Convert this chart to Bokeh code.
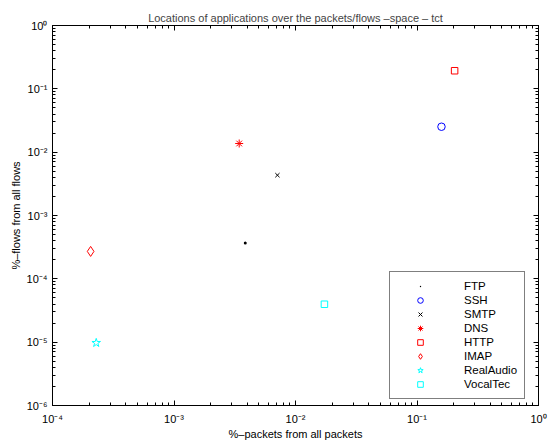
from bokeh.plotting import figure
from bokeh.models import FixedTicker, CustomJSTickFormatter, LogAxis, Legend, LegendItem
from bokeh.embed import file_html
from bokeh.resources import INLINE

# ---- data ----
apps = ["FTP", "SSH", "SMTP", "DNS", "HTTP", "IMAP", "RealAudio", "VocalTec"]
packets_frac = [3.86e-3, 0.159, 7.1e-3, 3.44e-3, 0.204, 2.06e-4, 2.29e-4, 1.73e-2]
flows_frac = [3.69e-4, 2.52e-2, 4.33e-3, 1.37e-2, 0.193, 2.71e-4, 9.75e-6, 3.97e-5]
x_exponents = [-4, -3, -2, -1, 0]
y_exponents = [-6, -5, -4, -3, -2, -1, 0]

# ---- styles ----
styles = {
    "FTP": dict(marker="dot", size=12, line_color="black", fill_color="black"),
    "SSH": dict(marker="circle", size=7.5, line_color="#0000ff", fill_color=None),
    "SMTP": dict(marker="x", size=6, line_color="black", fill_color=None),
    "DNS": dict(marker="asterisk", size=8, line_color="#ff0000", fill_color=None),
    "HTTP": dict(marker="square", size=6.5, line_color="#ff0000", fill_color=None),
    "IMAP": dict(marker="diamond", size=10, line_color="#ff0000", fill_color=None),
    "RealAudio": dict(marker="star", size=9, line_color="#00ffff", fill_color=None),
    "VocalTec": dict(marker="square", size=6.5, line_color="#00ffff", fill_color=None),
}

FONT = "Liberation Sans"

p = figure(width=548, height=442, x_axis_type="log", y_axis_type="log",
           x_range=(10.0 ** x_exponents[0], 10.0 ** x_exponents[-1]),
           y_range=(10.0 ** y_exponents[0], 10.0 ** y_exponents[-1]),
           output_backend="svg", toolbar_location=None,
           title="Locations of applications over the packets/flows \u2013space \u2013 tct",
           min_border_left=52, min_border_right=10, min_border_top=25, min_border_bottom=33)

p.title.text_font = FONT
p.title.text_font_size = "11px"
p.title.text_font_style = "normal"
p.title.align = "center"
p.title.standoff = 3
p.title.offset = 0

p.xgrid.visible = False
p.ygrid.visible = False
p.outline_line_color = "black"
p.background_fill_color = "white"
p.border_fill_color = "white"

fmt_code = """
const e = Math.round(Math.log10(tick));
const sup = {'-':'\u207b','0':'\u2070','1':'\u00b9','2':'\u00b2','3':'\u00b3','4':'\u2074','5':'\u2075','6':'\u2076','7':'\u2077','8':'\u2078','9':'\u2079'};
return '10' + String(e).split('').map(c => sup[c]).join('');
"""

def decade_ticks(exps):
    major = [10.0 ** e for e in exps]
    minor = [k * 10.0 ** e for e in exps[:-1] for k in range(2, 10)]
    return FixedTicker(ticks=major, minor_ticks=minor)

xt = decade_ticks(x_exponents)
yt = decade_ticks(y_exponents)

def style_axis(ax, ticker, labels=True):
    ax.ticker = ticker
    ax.axis_line_color = "black"
    ax.major_tick_line_color = "black"
    ax.minor_tick_line_color = "black"
    ax.major_tick_in = 5
    ax.major_tick_out = 0
    ax.minor_tick_in = 3
    ax.minor_tick_out = 0
    ax.formatter = CustomJSTickFormatter(code=fmt_code)
    ax.major_label_text_font = FONT
    if labels:
        ax.major_label_text_font_size = "11px"
        ax.major_label_text_color = "black"
        ax.axis_label_text_font = FONT
        ax.axis_label_text_font_size = "11px"
        ax.axis_label_text_font_style = "normal"
        ax.axis_label_text_color = "black"
    else:
        ax.major_label_text_font_size = "1px"
        ax.major_label_text_color = None
        ax.major_label_standoff = 0

style_axis(p.xaxis[0], xt)
style_axis(p.yaxis[0], yt)
p.xaxis[0].axis_label = "%\u2013packets from all packets"
p.yaxis[0].axis_label = "%\u2013flows from all flows"
p.xaxis[0].major_label_standoff = 7
p.xaxis[0].axis_label_standoff = 0
p.yaxis[0].major_label_standoff = 5
p.yaxis[0].axis_label_standoff = 2

top_ax = LogAxis()
style_axis(top_ax, decade_ticks(x_exponents), labels=False)
right_ax = LogAxis()
style_axis(right_ax, decade_ticks(y_exponents), labels=False)
p.add_layout(top_ax, "above")
p.add_layout(right_ax, "right")

items = []
for name, xv, yv in zip(apps, packets_frac, flows_frac):
    st = styles[name]
    r = p.scatter(x=[xv], y=[yv], marker=st["marker"], size=st["size"],
                  line_color=st["line_color"], fill_color=st["fill_color"], line_width=1)
    items.append(LegendItem(label=name, renderers=[r]))

legend = Legend(items=items, location=(337, 6))
legend.label_text_font = FONT
legend.label_text_font_size = "11.5px"
legend.label_text_color = "black"
legend.glyph_height = 14
legend.glyph_width = 46
legend.label_height = 14
legend.label_width = 46
legend.label_standoff = 21
legend.spacing = 0
legend.padding = 7
legend.margin = 0
legend.border_line_color = "black"
legend.border_line_width = 1
legend.background_fill_color = "white"
legend.background_fill_alpha = 1.0
p.add_layout(legend, "center")

open("out.html", "w").write(file_html(p, INLINE))
